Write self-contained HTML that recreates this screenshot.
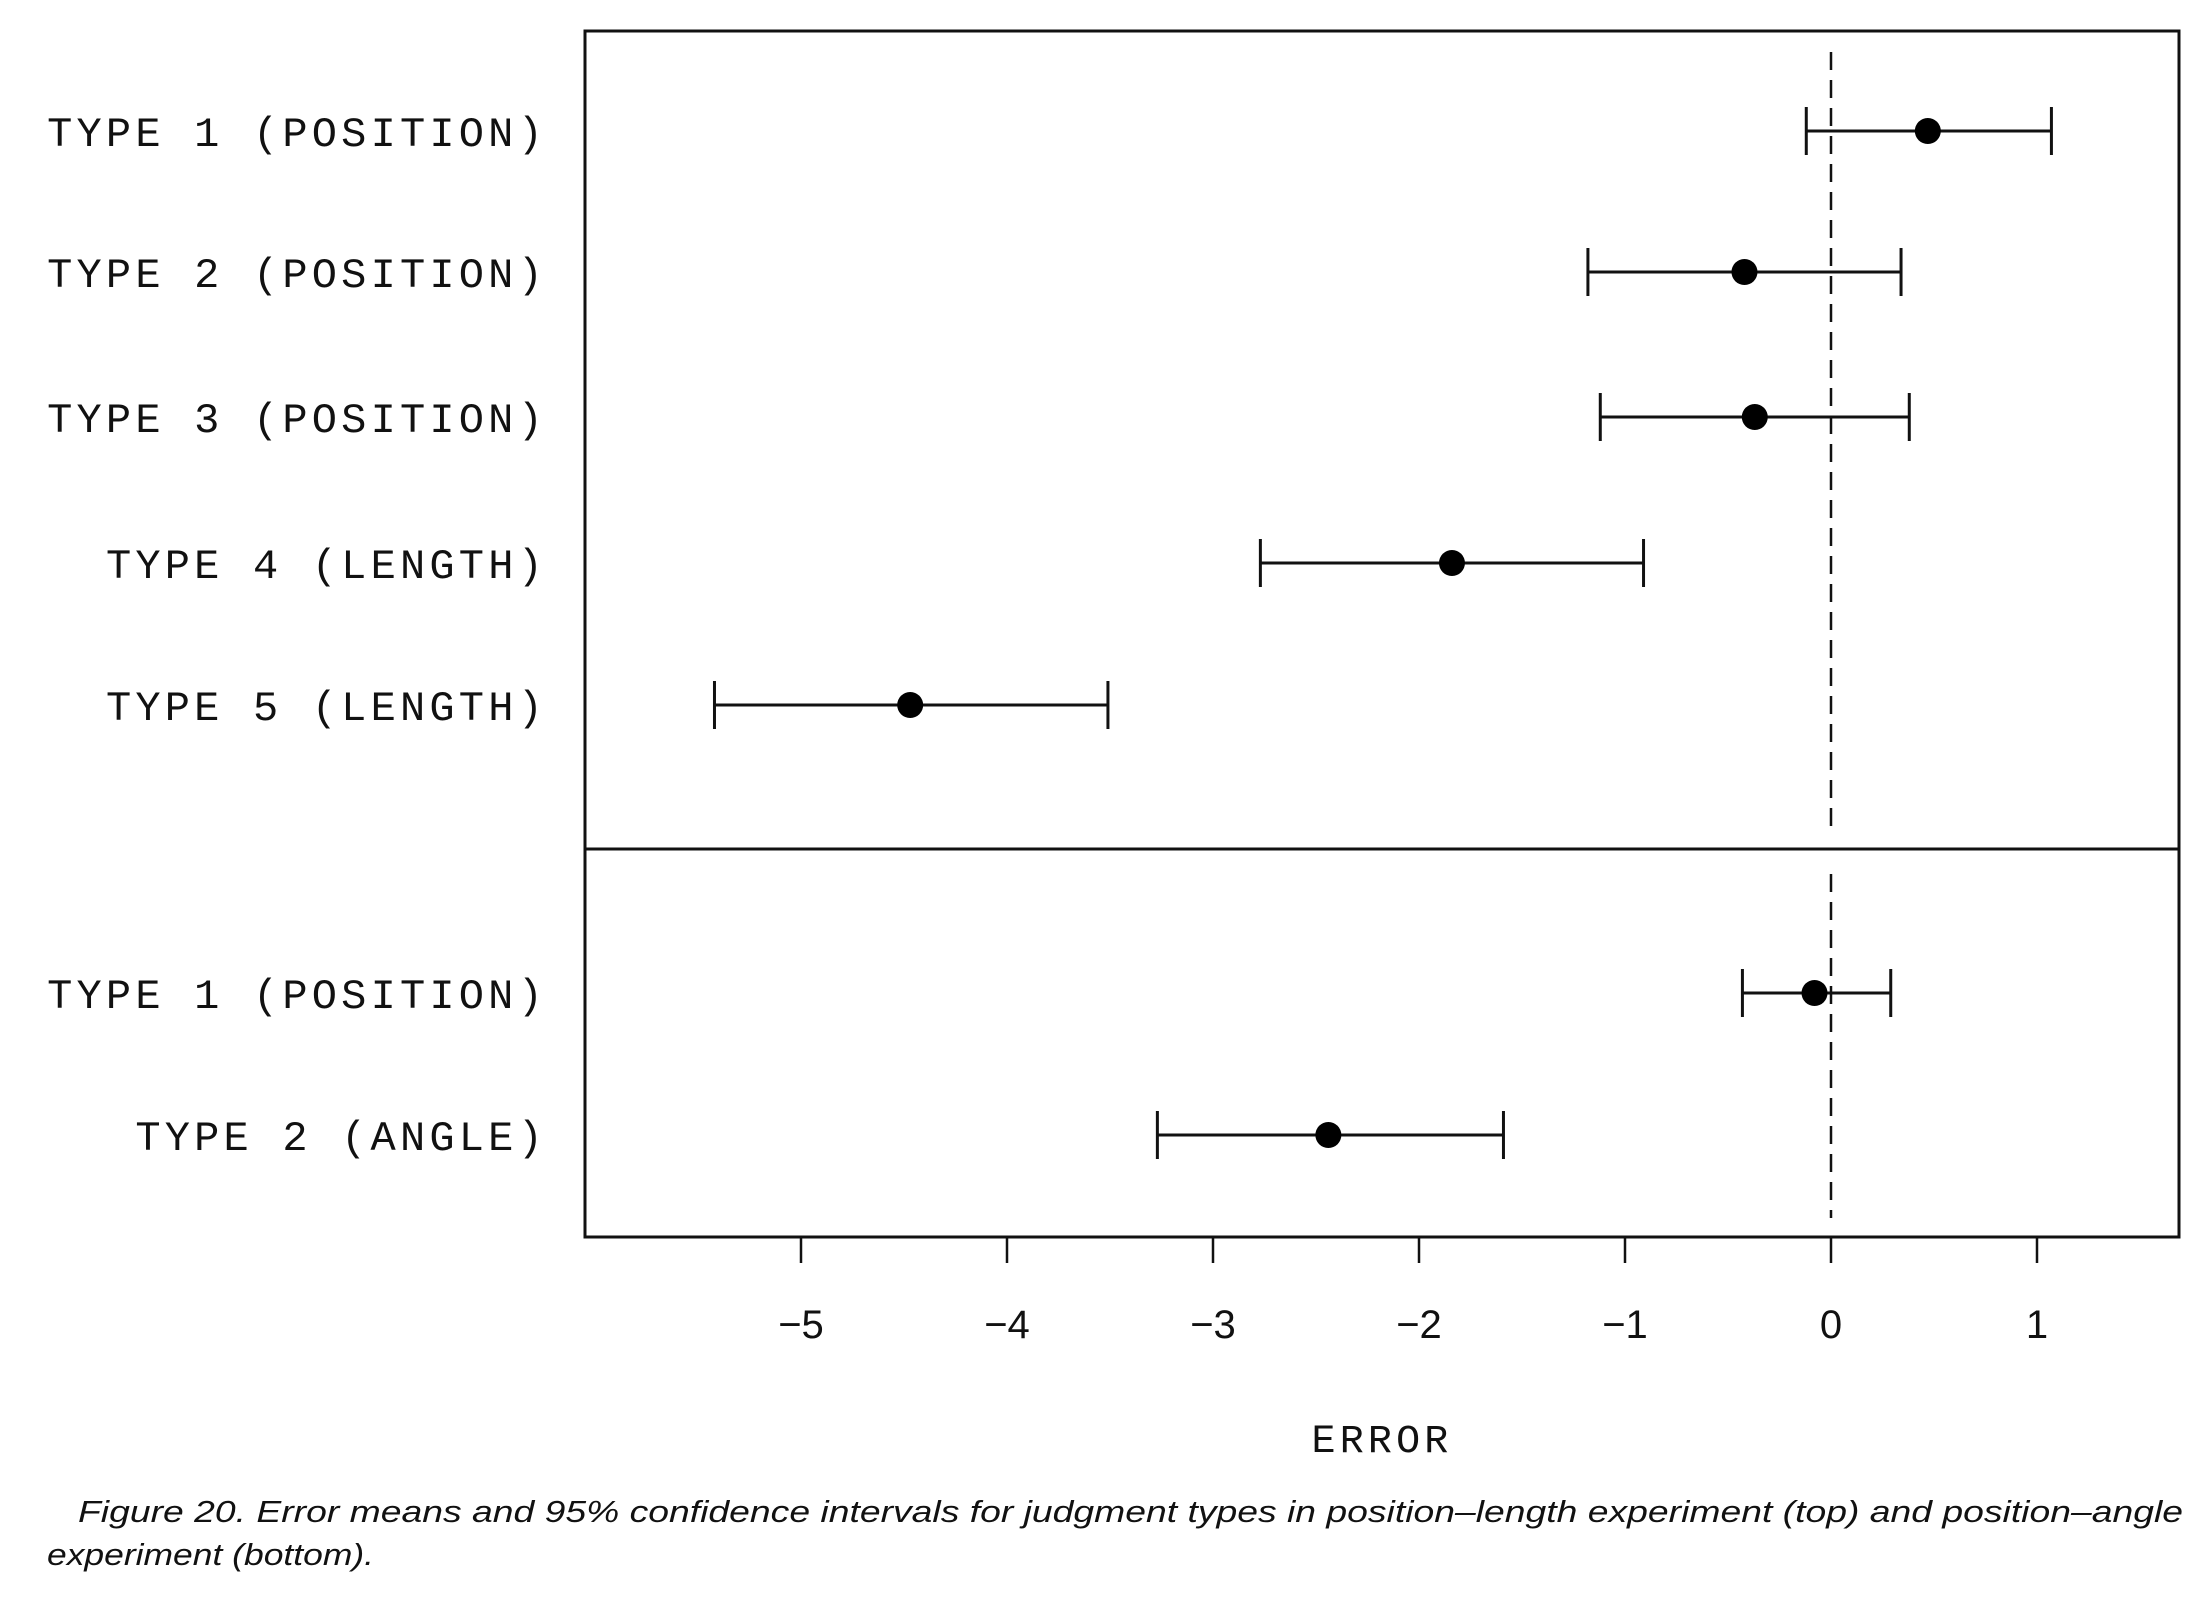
<!DOCTYPE html>
<html><head><meta charset="utf-8"><style>
html,body{margin:0;padding:0;background:#fff;}
svg{display:block;}
.lab{font-family:"Liberation Mono",monospace;font-size:42px;letter-spacing:4.2px;fill:#111;}
.tick{font-family:"Liberation Sans",sans-serif;font-size:40px;fill:#111;}
.cap{font-family:"Liberation Sans",sans-serif;font-style:italic;font-size:31px;fill:#111;}
</style></head><body>
<svg id="chart" width="2212" height="1598" viewBox="0 0 2212 1598" xmlns="http://www.w3.org/2000/svg">
<rect x="0" y="0" width="2212" height="1598" fill="#fff"/>
<g id="frame"></g>
<g id="marks"></g>
<text x="1382" y="1452" text-anchor="middle" class="lab" style="font-size:40px">ERROR</text>
<text x="78" y="1522" class="cap" textLength="2105" lengthAdjust="spacingAndGlyphs">Figure 20. Error means and 95% confidence intervals for judgment types in position–length experiment (top) and position–angle</text>
<text x="47" y="1565" class="cap" textLength="327" lengthAdjust="spacingAndGlyphs">experiment (bottom).</text>
</svg>
<script>
const categories = ["TYPE 1 (POSITION)","TYPE 2 (POSITION)","TYPE 3 (POSITION)","TYPE 4 (LENGTH)","TYPE 5 (LENGTH)","TYPE 1 (POSITION)","TYPE 2 (ANGLE)"];
const panel = ["top","top","top","top","top","bottom","bottom"];
const means = [0.47,-0.42,-0.37,-1.84,-4.47,-0.08,-2.44];
const lows = [-0.12,-1.18,-1.12,-2.77,-5.42,-0.43,-3.27];
const highs = [1.07,0.34,0.38,-0.91,-3.51,0.29,-1.59];
const ticks = [-5,-4,-3,-2,-1,0,1];
const tickLabels = ["−5","−4","−3","−2","−1","0","1"];

const NS="http://www.w3.org/2000/svg";
const L=585,R=2179,T=31,B=1237,DIV=849;
const x=v=>1831+v*206;
const rowY=[131,272,417,563,705,993,1135];
const y=i=>rowY[i];
function mk(tag,attrs,parent){const e=document.createElementNS(NS,tag);for(const k in attrs)e.setAttribute(k,attrs[k]);parent.appendChild(e);return e;}
const frame=document.getElementById('frame'), marks=document.getElementById('marks');
let e;
e=mk('rect',{x:L,y:T,width:R-L,height:B-T,fill:'none',stroke:'#111','stroke-width':3},frame);


e=mk('line',{x1:L,x2:R,y1:DIV,y2:DIV,stroke:'#111','stroke-width':3},frame);


e=mk('line',{x1:x(0),x2:x(0),y1:52,y2:834,stroke:'#111','stroke-width':2.5,'stroke-dasharray':'18,10'},frame);


e=mk('line',{x1:x(0),x2:x(0),y1:874,y2:1218,stroke:'#111','stroke-width':2.5,'stroke-dasharray':'18,10'},frame);


ticks.forEach((t,i)=>{
  e=mk('line',{x1:x(t),x2:x(t),y1:B,y2:1263,stroke:'#111','stroke-width':2.5},frame);
  
  
  e=mk('text',{x:x(t),y:1338,'text-anchor':'middle',class:'tick'},frame);
  e.textContent=tickLabels[i];
  
  
});
categories.forEach((c,i)=>{
  const yy=y(i);
  e=mk('text',{x:547,y:yy+15,'text-anchor':'end',class:'lab'},marks);
  e.textContent=c;
  
  
  const g=mk('g',{},marks);
  
  
  mk('line',{x1:x(lows[i]),x2:x(highs[i]),y1:yy,y2:yy,stroke:'#111','stroke-width':3},g);
  mk('line',{x1:x(lows[i]),x2:x(lows[i]),y1:yy-24,y2:yy+24,stroke:'#111','stroke-width':3},g);
  mk('line',{x1:x(highs[i]),x2:x(highs[i]),y1:yy-24,y2:yy+24,stroke:'#111','stroke-width':3},g);
  e=mk('circle',{cx:x(means[i]),cy:yy,r:13,fill:'#000'},g);
  
  
});
</script>
</body></html>
